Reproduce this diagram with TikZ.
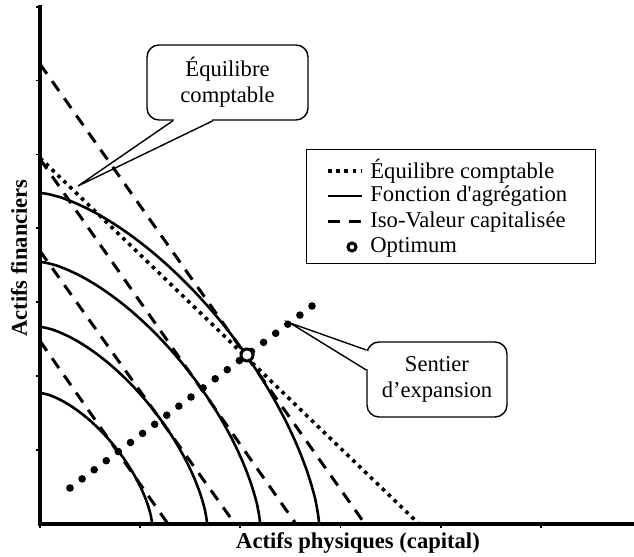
\documentclass[tikz,border=0pt]{standalone}
\usepackage{fontspec}
\setmainfont{Liberation Serif}
\usetikzlibrary{calc}

\tikzset{
  axe/.style={line width=1.7pt},
  graduation/.style={line width=0.9pt},
  agreg/.style={line width=1.3pt},
  isoval/.style={line width=1.5pt, dash pattern=on 6pt off 4.5pt},
  equil/.style={line width=1.8pt, dash pattern=on 1.8pt off 2.3pt},
  optimum/.style={circle, draw, fill=white, line width=1.5pt, inner sep=0pt, minimum size=6pt},
  bulle/.style={draw, fill=white, rounded corners=6pt, line width=0.7pt, align=center,
    minimum height=37.5pt, inner sep=2pt},
  legende/.style={anchor=west, inner sep=0pt},
  titreaxe/.style={font=\fontsize{11.3}{12.8}\selectfont\bfseries},
}

\begin{document}
\begin{tikzpicture}[x=0.5pt, y=0.5pt, font=\fontsize{11.3}{12.8}\selectfont]
\useasboundingbox (-40,-33) rectangle (594,524);

% axes
\draw[axe] (0,518.7) -- (0,0) -- (594,0);
\foreach \k in {1,...,7} \draw[graduation] (0,\k*73.9) -- (-4,\k*73.9);
\foreach \k in {0,...,5} \draw[graduation] (\k*100.2,0) -- (\k*100.2,-4);
\node[titreaxe] (xlab) at (318,-19) {Actifs physiques (capital)};
\node[titreaxe, rotate=90] (ylab) at (-21,266) {Actifs financiers};

% iso-valeur capitalisee
\foreach \X/\Y in {128/183,195/273,256/365,325/460}
  \draw[isoval] (0,\Y) -- (\X,0);

% fonctions d'agregation
\foreach \a/\b in {112/131,167/197,220/262,279/331}
  \draw[agreg] plot[domain=0.01:89.99, samples=80, variable=\t]
    ({\a*pow(cos(\t),4/3)},{\b*pow(sin(\t),4/3)});

% equilibre comptable
\draw[equil] (0,366) -- (379,0);

% sentier d'expansion
\coordinate (s0) at (30,36);
\coordinate (s1) at (272,218);
\foreach \i in {0,...,20} \fill ($(s0)!\i/20!(s1)$) circle (1.9pt);

\node[optimum] (opt) at (207,169) {};

% bulles
\node[bulle, minimum width=80.5pt] (bulleEq) at (187.5,441.5) {Équilibre\\comptable};
\coordinate (pointeEq) at (38,338);
\fill[white] ([xshift=-26.9pt,yshift=-0.7pt]bulleEq.south) rectangle ([xshift=-7.6pt,yshift=0.7pt]bulleEq.south);
\draw[line width=0.7pt] ([xshift=-27.25pt]bulleEq.south) -- (pointeEq) -- ([xshift=-7.25pt]bulleEq.south);

\node[bulle, minimum width=70pt] (bulleSe) at (397,144.5) {Sentier\\d’expansion};
\coordinate (pointeSe) at (250,201);
\fill[white] ([xshift=-0.7pt,yshift=14.4pt]bulleSe.west) rectangle ([xshift=0.7pt,yshift=5.1pt]bulleSe.west);
\draw[line width=0.7pt] ([yshift=14.75pt]bulleSe.west) -- (pointeSe) -- ([yshift=4.75pt]bulleSe.west);

% legende
\draw[line width=0.5pt] (267,260) rectangle (556,374);
\node[legende] (legEq) at (330,353) {Équilibre comptable};
\node[legende] (legAg) at (330,328) {Fonction d\textquotesingle agrégation};
\node[legende] (legIso) at (330,302) {Iso-Valeur capitalisée};
\node[legende] (legOpt) at (330,277) {Optimum};
\draw[equil] (288,353) -- (322,353);
\draw[agreg] (288,328) -- (322,328);
\draw[isoval] (288,302) -- (322,302);
\node[optimum, minimum size=4pt] (legMarq) at (312,277) {};
\end{tikzpicture}
\end{document}
